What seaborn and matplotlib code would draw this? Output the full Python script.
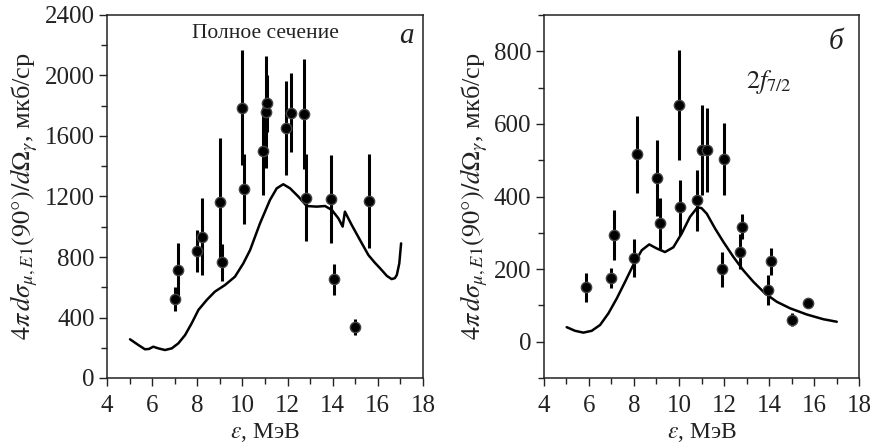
import numpy as np
import pandas as pd
import matplotlib
matplotlib.use("Agg")
import matplotlib.pyplot as plt
from matplotlib.ticker import MultipleLocator
import seaborn as sns

# ---------------- data: panel a (total cross section) ----------------
a_x = [7.0, 7.14, 8.0, 8.2, 9.0, 9.1, 10.0, 10.05, 10.93, 11.03, 11.1,
       11.92, 12.14, 12.73, 12.8, 13.94, 14.07, 15.0, 15.6]
a_y = [520, 715, 840, 935, 1165, 764, 1787, 1250, 1503, 1760, 1815,
       1655, 1754, 1745, 1193, 1184, 654, 337, 1169]
a_err = [80, 180, 140, 255, 420, 120, 380, 230, 290, 370, 190,
         310, 262, 365, 290, 290, 103, 50, 310]
a_cx = [5.02, 5.39, 5.68, 5.86, 6.05, 6.27, 6.57, 6.87, 7.16, 7.46, 7.75,
        8.05, 8.42, 8.78, 9.23, 9.67, 10.04, 10.34, 10.78, 11.22, 11.52,
        11.81, 12.11, 12.48, 12.85, 13.29, 13.66, 13.96, 14.25, 14.44,
        14.54, 14.84, 15.21, 15.58, 15.85, 16.1, 16.4, 16.61, 16.75, 16.84,
        16.95, 17.03]
a_cy = [256, 218, 190, 192, 207, 196, 185, 196, 229, 284, 361,
        450, 516, 571, 615, 670, 758, 846, 1023, 1177, 1254,
        1281, 1254, 1199, 1137, 1133, 1137, 1111, 1056, 1001,
        1100, 1012, 912, 813, 765, 725, 675, 654, 660, 681,
        758, 890]

# ---------------- data: panel b (2f7/2) ----------------
b_x = [5.88, 7.0, 7.1, 7.99, 8.12, 9.01, 9.16, 9.99, 10.03, 10.79, 11.0,
       11.23, 12.0, 11.9, 12.7, 12.81, 13.96, 14.07, 15.0, 15.71]
b_y = [150, 176, 294, 230, 516, 450, 326, 652, 370, 389, 528,
       528, 503, 199, 248, 317, 142, 221, 61, 106]
b_err = [40, 27, 70, 52, 105, 105, 70, 152, 75, 85, 125,
         115, 100, 47, 48, 35, 41, 36, 18, 6]
b_cx = [5.02, 5.39, 5.76, 6.13, 6.5, 6.87, 7.24, 7.61, 7.97, 8.35, 8.68,
        9.01, 9.38, 9.75, 10.12, 10.49, 10.82, 11.0, 11.23, 11.6, 11.97,
        12.41, 12.85, 13.3, 13.82, 14.34, 14.93, 15.67, 16.4, 17.0]
b_cy = [40, 30, 25, 30, 46, 78, 119, 165, 211, 252, 268,
        257, 247, 260, 298, 344, 370, 368, 353, 312, 275,
        234, 197, 165, 133, 110, 92, 75, 62, 55]

sns.set_theme(style="ticks")
plt.rcParams["font.family"] = ["Liberation Serif", "DejaVu Serif"]
plt.rcParams["mathtext.fontset"] = "stix"

fig = plt.figure(figsize=(8.76, 4.47), dpi=100)
ax1 = fig.add_axes([107 / 876, 69 / 447, 316 / 876, 363 / 447])
ax2 = fig.add_axes([543.7 / 876, 69 / 447, 315.6 / 876, 363 / 447])

ylabel = r"$4\pi\, d\sigma_{\mu,E1}(90°)/d\Omega_{\gamma}$, мкб/ср"
axcol = "#222222"


def draw(ax, px, py, perr, cx, cy):
    curve = pd.DataFrame({"e": cx, "s": cy})
    sns.lineplot(data=curve, x="e", y="s", ax=ax, color="black", lw=1.8,
                 sort=False, estimator=None)
    ax.errorbar(px, py, yerr=perr, fmt="none", ecolor="black", elinewidth=2.2,
                capsize=0, zorder=3)
    pts = pd.DataFrame({"e": px, "s": py})
    sns.scatterplot(data=pts, x="e", y="s", ax=ax, color="black", s=55,
                    edgecolor="#444444", linewidth=1.0, zorder=4)
    ax.set_xlim(4, 18)
    ax.xaxis.set_major_locator(MultipleLocator(2))
    ax.xaxis.set_minor_locator(MultipleLocator(1))
    ax.set_xlabel(r"$\varepsilon$, МэВ", fontsize=17, labelpad=3)
    ax.set_ylabel(ylabel, fontsize=19, labelpad=3)
    ax.tick_params(axis="both", which="major", labelsize=18, direction="out",
                   length=6, width=1, color=axcol, labelcolor=axcol, pad=3)
    ax.tick_params(axis="x", which="major", pad=6)
    ax.tick_params(axis="both", which="minor", direction="out", length=4,
                   width=1, color=axcol)
    for sp in ax.spines.values():
        sp.set_visible(True)
        sp.set_color(axcol)
        sp.set_linewidth(1.1)
    ax.xaxis.label.set_color(axcol)
    ax.yaxis.label.set_color(axcol)


draw(ax1, a_x, a_y, a_err, a_cx, a_cy)
ax1.set_ylim(0, 2400)
ax1.yaxis.set_major_locator(MultipleLocator(400))
ax1.yaxis.set_minor_locator(MultipleLocator(200))
ax1.text(11.0, 2280, "Полное сечение", fontsize=15.5, ha="center",
         va="center", color=axcol)
ax1.text(17.6, 2260, "а", fontsize=21, style="italic", ha="right",
         va="center", color=axcol)

draw(ax2, b_x, b_y, b_err, b_cx, b_cy)
ax2.set_ylim(-100, 900)
ax2.yaxis.set_major_locator(MultipleLocator(200))
ax2.yaxis.set_minor_locator(MultipleLocator(100))
ax2.set_yticks([0, 200, 400, 600, 800])
ax2.text(14.0, 715, r"$2f_{7/2}$", fontsize=19, ha="center", va="center",
         color=axcol)
ax2.text(17.3, 825, "б", fontsize=21, style="italic", ha="right",
         va="center", color=axcol)

fig.savefig("out.png", dpi=100)
